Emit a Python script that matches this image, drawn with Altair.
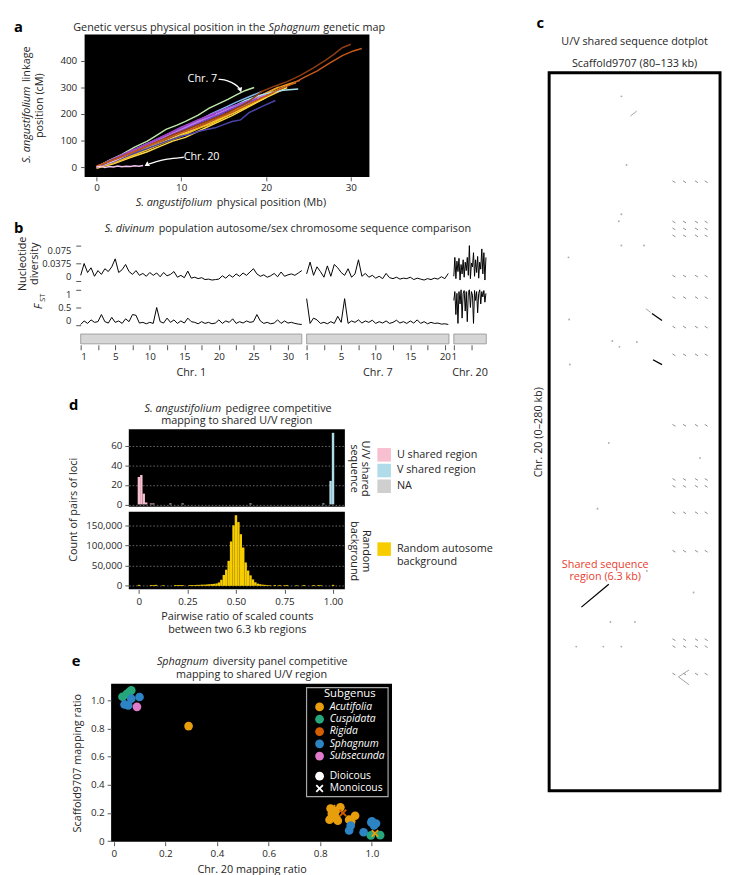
import altair as alt
import pandas as pd

FONT = "Open Sans"
INK = "#262626"
TICK = "#555555"

# ============ Panel a : genetic vs physical position ============
a_names = ["Chr. 10", "Chr. 8", "Chr. 6", "Chr. 4", "Chr. 3", "Chr. 15", "Chr. 12", "Chr. 5",
           "Chr. 9", "Chr. 17", "Chr. 7", "Chr. 19", "Chr. 16", "Chr. 11", "Chr. 14", "Chr. 13",
           "Chr. 18", "Chr. 1", "Chr. 2", "Chr. 20"]
a_colors = ["#f4e27a", "#ffd94a", "#e8b430", "#f6c21c", "#f29a22", "#5a86dc", "#7fb6ee", "#a8e2f0",
            "#4a44aa", "#6a64d0", "#bfe8a8", "#e6c6f6", "#cc95f2", "#b977ea", "#9c55dc", "#7a3fc8",
            "#a040c0", "#8f3d10", "#c55a1c", "#f2c4ee"]
a_x = [
    [0, 2, 4, 6, 8, 10, 12, 14, 16, 18, 20],
    [0, 2, 4, 6, 7.5, 9, 10.5, 12, 14, 16, 18, 20, 22.5],
    [0, 2, 4, 6, 8, 10, 12, 14, 16, 18, 19.5, 21.5],
    [0, 2, 4, 6, 8, 10, 12, 13.5, 15, 16.5, 18, 19.5, 21, 22.5, 23.5],
    [0, 1.5, 3, 4.5, 6, 7.5, 9, 10.5, 12, 13.5, 15, 16.5, 18, 19.5, 21, 22.5, 24],
    [0, 2, 4, 6, 8, 10, 12, 14, 16, 17.5],
    [0, 2, 4, 6, 8, 10, 12, 13.5, 15, 16.5, 18, 19.5],
    [0, 2, 4, 6, 8, 10, 12, 14, 16, 17.5, 19, 20.5, 22, 23.8],
    [0, 2, 4, 6, 8, 10, 11, 12, 13, 14, 15, 16, 17, 18, 19.5, 21.1],
    [0, 2, 4, 6, 8, 10, 12, 14, 15],
    [0, 1.5, 3, 4.5, 6, 7, 8.2, 9.5, 10.5, 12, 13.3, 14.5, 15.5, 16.5, 17.5, 18.6],
    [0, 2, 4, 6, 8, 10, 12],
    [0, 2, 4, 6, 8, 10, 12, 14, 16],
    [0, 2, 4, 6, 8, 10, 12, 14, 16, 18, 20],
    [0, 2, 4, 6, 8, 10, 12, 14, 16, 18],
    [0, 2, 4, 6, 8, 10, 12, 14, 16, 18, 19],
    [0, 2, 4, 6, 8, 10, 12, 14],
    [0, 1.5, 3, 4.5, 6, 7.5, 9, 10.5, 12, 13.5, 15, 16.5, 18, 19.5, 21, 22.5, 24, 25.5, 27, 28, 29, 30],
    [0, 2, 4, 6, 8, 10, 12, 14, 16, 18, 20, 21.5, 23, 24.5, 26, 27.5, 29, 30.3, 31.3],
    [0, 0.5, 1, 1.5, 2, 2.5, 3, 3.5, 4, 4.5, 5, 5.5],
]
a_y = [
    [0, 20, 44, 72, 96, 124, 148, 174, 202, 232, 262],
    [-5, 12, 36, 58, 78, 98, 112, 135, 165, 194, 228, 262, 300],
    [0, 16, 40, 66, 92, 116, 145, 176, 206, 240, 268, 302],
    [0, 18, 42, 66, 95, 118, 146, 162, 186, 210, 232, 258, 285, 308, 318],
    [0, 20, 36, 60, 78, 96, 118, 135, 158, 178, 198, 220, 250, 272, 295, 312, 327],
    [0, 25, 55, 80, 110, 138, 165, 192, 222, 242],
    [0, 32, 58, 86, 116, 146, 174, 200, 222, 245, 265, 285],
    [0, 30, 58, 88, 112, 142, 168, 196, 226, 250, 268, 280, 290, 294],
    [0, 20, 46, 70, 94, 116, 124, 134, 142, 148, 160, 172, 178, 205, 228, 251],
    [0, 30, 58, 85, 112, 142, 170, 192, 205],
    [0, 25, 48, 75, 98, 118, 142, 158, 172, 196, 222, 240, 255, 272, 288, 300],
    [0, 22, 52, 80, 108, 140, 168],
    [0, 25, 52, 82, 112, 140, 170, 198, 225],
    [0, 28, 56, 84, 110, 140, 170, 198, 226, 250, 272],
    [0, 32, 60, 88, 118, 150, 178, 205, 230, 250],
    [0, 28, 52, 80, 108, 136, 165, 192, 220, 244, 258],
    [0, 30, 60, 88, 118, 148, 178, 200],
    [0, 22, 40, 58, 80, 100, 122, 140, 160, 178, 198, 222, 248, 285, 305, 322, 345, 372, 402, 425, 450, 463],
    [4, 26, 52, 80, 104, 128, 152, 180, 206, 238, 268, 292, 312, 338, 362, 392, 420, 438, 447],
    [0, 3, -2, 2, 0, 4, 1, 3, 2, 5, 3, 6],
]
a_label_text = ["Chr. 7", "Chr. 20"]
a_label_x = [12.5, 12.4]
a_label_y = [333, 37]
a_arrow_name = ["Chr. 7"] * 4 + ["Chr. 20"] * 4
a_arrow_x = [14.4, 15.5, 16.4, 16.9, 10.3, 8.2, 7.0, 6.2]
a_arrow_y = [331, 327, 312, 296, 37, 31, 20, 12]
a_head_x = [16.95, 6.0]
a_head_y = [293, 10]
a_head_angle = [160, 240]

# ============ Panel b : diversity / FST tracks ============
b_chroms = ["Chr. 1", "Chr. 7", "Chr. 20"]
b_offset = [0.0, 32.7, 54.0]
b_length = [32.0, 20.6, 4.7]
b_step = [0.5, 0.5, 0.15]
b_div = [
    [0.012, 0.037, 0.018, 0.028, 0.010, 0.022, 0.014, 0.026, 0.020, 0.030, 0.047, 0.018, 0.024, 0.035,
     0.020, 0.014, 0.022, 0.012, 0.016, 0.010, 0.018, 0.012, 0.017, 0.009, 0.018, 0.011, 0.014, 0.020,
     0.008, 0.012, 0.007, 0.021, 0.006, 0.008, 0.005, 0.007, 0.003, 0.004, 0.002, 0.003, 0.004, 0.011,
     0.006, 0.013, 0.008, 0.015, 0.010, 0.017, 0.012, 0.019, 0.026, 0.015, 0.010, 0.013, 0.008, 0.011,
     0.016, 0.009, 0.019, 0.010, 0.013, 0.015, 0.012, 0.017, 0.022],
    [0.015, 0.040, 0.012, 0.030, 0.020, 0.008, 0.032, 0.010, 0.035, 0.028, 0.018, 0.012, 0.026, 0.008,
     0.015, 0.045, 0.010, 0.016, 0.008, 0.012, 0.006, 0.010, 0.005, 0.016, 0.007, 0.005, 0.008, 0.004,
     0.006, 0.005, 0.008, 0.003, 0.006, 0.004, 0.002, 0.005, 0.003, 0.006, 0.004, 0.009, 0.005, 0.016],
    [0.010, 0.050, 0.005, 0.042, 0.020, 0.048, 0.002, 0.035, 0.015, 0.045, 0.008, 0.040, 0.022, 0.050,
     0.012, 0.075, 0.005, 0.038, 0.030, 0.060, 0.010, 0.045, 0.018, 0.052, 0.006, 0.040, 0.025, 0.068,
     0.015, 0.060, 0.002, 0.050],
]
b_fst = [
    [0.02, 0.12, 0.05, 0.15, 0.08, 0.10, 0.30, 0.10, 0.06, 0.22, 0.08, 0.12, 0.05, 0.18, 0.10, 0.30,
     0.28, 0.06, 0.08, 0.04, 0.08, 0.05, 0.50, 0.10, 0.06, 0.20, 0.08, 0.15, 0.05, 0.12, 0.06, 0.20,
     0.10, 0.08, 0.04, 0.10, 0.05, 0.08, 0.04, 0.06, 0.15, 0.05, 0.12, 0.08, 0.18, 0.05, 0.10, 0.06,
     0.12, 0.08, 0.10, 0.30, 0.12, 0.05, 0.08, 0.04, 0.06, 0.15, 0.05, 0.12, 0.06, 0.08, 0.05, 0.03, 0.02],
    [0.75, 0.05, 0.20, 0.15, 0.05, 0.08, 0.04, 0.10, 0.05, 0.25, 0.08, 0.75, 0.05, 0.12, 0.08, 0.15,
     0.06, 0.12, 0.08, 0.14, 0.05, 0.10, 0.06, 0.12, 0.05, 0.08, 0.14, 0.06, 0.10, 0.05, 0.12, 0.06,
     0.15, 0.05, 0.10, 0.04, 0.08, 0.05, 0.06, 0.03, 0.04, 0.02],
    [0.70, 0.95, 0.30, 0.90, 0.05, 0.95, 0.60, 1.00, 0.20, 0.90, 0.98, 0.40, 0.95, 0.10, 0.92, 1.00,
     0.50, 0.95, 0.85, 0.05, 0.98, 0.70, 0.95, 0.35, 0.90, 1.00, 0.60, 0.95, 0.80, 0.98, 0.65, 0.90],
]
b_tick_mb = [[0, 2.5, 5, 7.5, 10, 12.5, 15, 17.5, 20, 22.5, 25, 27.5, 30],
             [0, 2.5, 5, 7.5, 10, 12.5, 15, 17.5, 20],
             [0, 2.5]]
b_tick_lab = [["1", "", "5", "", "10", "", "15", "", "20", "", "25", "", "30"],
              ["1", "", "5", "", "10", "", "15", "", "20"],
              ["1", ""]]

# ============ Panel d : competitive mapping histograms ============
d_u_x = [0.0, 0.0125, 0.025, 0.0375, 0.0625, 0.075, 0.1625]
d_u_n = [28, 30, 11, 2, 1, 1, 1]
d_na_x = [0.225, 0.575]
d_na_n = [1, 1]
d_v_x = [0.95, 0.9875, 1.0]
d_v_n = [1, 24, 73]
d_bg_x = [0.0, 0.0625, 0.075, 0.0875, 0.125, 0.1875, 0.2, 0.2125, 0.225, 0.2625, 0.275, 0.2875, 0.3,
          0.3125, 0.325, 0.3375, 0.35, 0.3625, 0.375, 0.3875, 0.4, 0.4125, 0.425, 0.4375, 0.45, 0.4625,
          0.475, 0.4875, 0.5, 0.5125, 0.525, 0.5375, 0.55, 0.5625, 0.575, 0.5875, 0.6, 0.6125, 0.625,
          0.6375, 0.65, 0.6625, 0.675, 0.7, 0.725, 0.75, 0.7625, 0.8125, 0.85, 0.9, 0.925, 0.9375, 1.0]
d_bg_n = [2500, 2000, 2000, 2500, 1500, 2000, 2000, 2000, 2000, 2000, 2000, 2000, 2500, 2500, 3000,
          3000, 3500, 4000, 4500, 5000, 6000, 8500, 15000, 27000, 40000, 62000, 110000, 150000, 175000,
          158000, 128000, 95000, 58000, 38000, 26000, 16000, 9000, 5500, 4000, 3000, 2500, 2000, 1500,
          2000, 2000, 1500, 2000, 1500, 2000, 2000, 2000, 1500, 2500]
d_cats = ["U shared region", "V shared region", "NA"]
d_cat_colors = ["#f7bfd0", "#b0dbe9", "#cfcfcf"]
d_bg_cat = "Random autosome background"
d_bg_color = "#f7cd00"
D_BIN = 0.0125

# ============ Panel e : diversity panel scatter ============
e_x = [0.034, 0.050, 0.068, 0.060, 0.068, 0.100, 0.042, 0.056, 0.090, 0.290,
       0.836, 0.850, 0.845, 0.862, 0.868, 0.878, 0.860, 0.912, 0.935, 0.920, 0.840,
       0.918, 0.912, 0.968, 0.998, 1.008, 1.016, 1.000,
       0.996, 1.032,
       0.845, 0.858, 1.012, 0.888]
e_y = [1.027, 1.045, 1.072, 1.060, 1.013, 1.025, 0.972, 0.965, 0.955, 0.818,
       0.152, 0.170, 0.195, 0.160, 0.145, 0.240, 0.215, 0.152, 0.180, 0.140, 0.232,
       0.110, 0.075, 0.063, 0.132, 0.112, 0.125, 0.140,
       0.040, 0.042,
       0.232, 0.205, 0.055, 0.200]
e_sub = (["Cuspidata"] * 4 + ["Sphagnum"] * 4 + ["Subsecunda"] + ["Acutifolia"] + ["Acutifolia"] * 11
         + ["Sphagnum"] * 7 + ["Cuspidata"] * 2 + ["Acutifolia"] * 3 + ["Rigida"])
e_sex = ["Dioicous"] * 30 + ["Monoicous"] * 4
e_sub_domain = ["Acutifolia", "Cuspidata", "Rigida", "Sphagnum", "Subsecunda"]
e_sub_colors = ["#e89e0c", "#25a67b", "#d55e00", "#2d84c4", "#e07bcb"]
X_PATH = "M-0.9,-0.6L-0.6,-0.9L0,-0.3L0.6,-0.9L0.9,-0.6L0.3,0L0.9,0.6L0.6,0.9L0,0.3L-0.6,0.9L-0.9,0.6L-0.3,0Z"

# ============ Panel c : dotplot ============
c_line_x1 = [90.0, 111.9, 112.2]
c_line_y1 = [208.4, 93.9, 111.9]
c_line_x2 = [98.5, 115.0, 115.0]
c_line_y2 = [199.5, 96.6, 113.8]
c_dash_rows = [42.5, 58.2, 60.9, 63.6, 79.3, 87.7, 99.2, 110.0, 137.5, 158.6, 161.3, 171.6,
               186.6, 221.1, 223.8, 234.5]
c_dash_cols = [118.7, 122.0, 125.7, 128.7]
c_seg_x1 = [123.4, 120.1, 105.2, 110.0]
c_seg_y1 = [232.9, 235.6, 16.9, 92.0]
c_seg_x2 = [120.1, 123.4, 107.2, 111.5]
c_seg_y2 = [235.6, 238.7, 14.9, 93.5]
c_dot_x = [102.4, 102.4, 101.6, 102.4, 109.4, 99.6, 101.8, 107.2, 98.5, 126.8, 110.3, 124.8,
           99.0, 106.6, 88.4, 96.8, 102.4, 86.2, 86.4, 86.0, 104.0, 95.0]
c_dot_y = [9.2, 55.2, 57.9, 67.4, 67.4, 104.6, 106.9, 105.0, 144.4, 150.2, 194.3, 202.7,
           214.2, 214.2, 223.8, 223.8, 223.8, 96.2, 113.8, 72.0, 36.0, 170.0]


# ---------------- helpers ----------------
def txt(text, x, y, size=11, angle=0, color=INK, weight="normal", align="center",
        baseline="middle", style="normal"):
    return alt.Chart(pd.DataFrame({"t": [text]})).mark_text(
        fontSize=size, angle=angle, color=color, fontWeight=weight, align=align,
        baseline=baseline, font=FONT, fontStyle=style, lineBreak="\n", lineHeight=13
    ).encode(x=alt.value(x), y=alt.value(y), text="t:N")


def mixed(ital, rest, x_split, y, size=11, gap=4.5):
    """Italic words ending at x_split followed by upright words."""
    return [txt(ital, x_split, y, size=size, align="right", style="italic"),
            txt(rest, x_split + gap, y, size=size, align="left")]


def letter(ch, x, y):
    return txt(ch, x, y, size=15, weight="bold", align="left", baseline="top", color="black")


def spacer(w):
    return alt.Chart(pd.DataFrame({"z": [0]})).mark_point(opacity=0).encode(
        x=alt.value(0), y=alt.value(0)).properties(width=w, height=1)


def indep(ch):
    return ch.resolve_scale(color="independent", shape="independent")


def pad_left(ch, w):
    return indep(alt.hconcat(spacer(w), ch, spacing=0))


# ---------------- Panel a ----------------
rows = []
for name, xs, ys in zip(a_names, a_x, a_y):
    for i, (xv, yv) in enumerate(zip(xs, ys)):
        rows.append({"chrom": name, "x": xv, "y": yv, "idx": i})
df_a = pd.DataFrame(rows)

A_W, A_H = 290, 145
xa_scale = alt.Scale(domain=[-1.4, 32.2], nice=False, zero=False)
ya_scale = alt.Scale(domain=[-37, 500], nice=False, zero=False)
X_a = alt.X("x:Q", scale=xa_scale, axis=alt.Axis(values=[0, 10, 20, 30], title=None))
Y_a = alt.Y("y:Q", scale=ya_scale, axis=alt.Axis(values=[0, 100, 200, 300, 400], title=None, labelPadding=4))

a_lines = alt.Chart(df_a).mark_line(strokeWidth=1.5).encode(
    x=X_a, y=Y_a,
    color=alt.Color("chrom:N", scale=alt.Scale(domain=a_names, range=a_colors), legend=None),
    order=alt.Order("idx:Q"),
)
df_arrow = pd.DataFrame({"name": a_arrow_name, "x": a_arrow_x, "y": a_arrow_y,
                         "idx": list(range(len(a_arrow_x)))})
a_arrows = alt.Chart(df_arrow).mark_line(color="white", strokeWidth=1.3, interpolate="basis").encode(
    x=X_a, y=Y_a, detail="name:N", order=alt.Order("idx:Q"))
a_heads = alt.Chart(pd.DataFrame({"x": a_head_x, "y": a_head_y, "ang": a_head_angle})).mark_point(
    shape="triangle", filled=True, color="white", size=30, opacity=1).encode(
    x=X_a, y=Y_a, angle=alt.Angle("ang:Q", scale=None))
a_text = alt.Chart(pd.DataFrame({"t": a_label_text, "x": a_label_x, "y": a_label_y})).mark_text(
    color="white", fontSize=11, font=FONT).encode(x=X_a, y=Y_a, text="t:N")

SPH_C, SPH_HALF = 213.5, 25.5
a_title = [
    txt("Genetic versus physical position in the", SPH_C - SPH_HALF - 4, -7, align="right"),
    txt("Sphagnum", SPH_C, -7, style="italic"),
    txt("genetic map", SPH_C + SPH_HALF + 4, -7, align="left"),
]
a_xtitle = mixed("S. angustifolium", "physical position (Mb)", 130, A_H + 27)
a_ytitle = [
    txt("S. angustifolium", -59, 53, angle=270, align="right", style="italic"),
    txt("linkage", -59, 48.5, angle=270, align="left"),
    txt("position (cM)", -45, A_H / 2, angle=270),
]
panel_a = alt.layer(
    a_lines, a_arrows, a_heads, a_text, *a_title, *a_xtitle, *a_ytitle,
    letter("a", -72, -15),
).properties(width=A_W, height=A_H, view=alt.ViewBackground(fill="black", stroke=None))

# ---------------- Panel b ----------------
div_rows, fst_rows = [], []
for ch, off, st, dv, fv in zip(b_chroms, b_offset, b_step, b_div, b_fst):
    for i, v in enumerate(dv):
        div_rows.append({"chrom": ch, "g": off + i * st, "v": v})
    for i, v in enumerate(fv):
        fst_rows.append({"chrom": ch, "g": off + i * st, "v": v})
df_div = pd.DataFrame(div_rows)
df_fst = pd.DataFrame(fst_rows)

B_W = 413
xb_scale = alt.Scale(domain=[0, 58.7], nice=False, zero=False)
div_line = alt.Chart(df_div).mark_line(color="black", strokeWidth=1).encode(
    x=alt.X("g:Q", scale=xb_scale, axis=None),
    y=alt.Y("v:Q", scale=alt.Scale(domain=[0, 0.075], nice=False, zero=False),
            axis=alt.Axis(values=[0, 0.0375, 0.075], labelExpr="toString(datum.value)",
                          title=["Nucleotide", "diversity"], titlePadding=2, labelPadding=5, tickSize=5,
                          labelFontSize=9.5, labelFlush=True)),
    detail="chrom:N",
)
panel_b_div = alt.layer(
    div_line,
    *mixed("S. divinum", "population autosome/sex chromosome sequence comparison", 75, -17),
    letter("b", -68, -25),
).properties(width=B_W, height=36)

fst_line = alt.Chart(df_fst).mark_line(color="black", strokeWidth=1).encode(
    x=alt.X("g:Q", scale=xb_scale, axis=None),
    y=alt.Y("v:Q", scale=alt.Scale(domain=[0, 1], nice=False, zero=False),
            axis=alt.Axis(values=[0, 0.5, 1], labelExpr="toString(datum.value)", title=None,
                          labelPadding=5, tickSize=5, labelFontSize=9.5, labelFlush=True)),
    detail="chrom:N",
)
panel_b_fst = alt.layer(
    fst_line,
    txt("F", -42, 17, size=11.5, angle=270, style="italic"),
    txt("ST", -38, 8, size=7.5, angle=270),
).properties(width=B_W, height=36)

tick_pos, tick_lab = [], []
for off, tm, tl in zip(b_offset, b_tick_mb, b_tick_lab):
    for p, lab in zip(tm, tl):
        tick_pos.append(round(off + p, 3))
        tick_lab.append(lab)
expr = "''"
for pos, lab in reversed(list(zip(tick_pos, tick_lab))):
    if lab:
        expr = f"abs(datum.value - {pos}) < 0.01 ? '{lab}' : ({expr})"
chr_axis = alt.Axis(values=tick_pos, labelExpr=expr, title=None, tickSize=5, labelPadding=2,
                    offset=1, labelOverlap=False, labelFontSize=10)
df_chr = pd.DataFrame({"chrom": b_chroms, "start": b_offset,
                       "end": [o + l for o, l in zip(b_offset, b_length)],
                       "mid": [o + l / 2 for o, l in zip(b_offset, b_length)]})
chr_bars = alt.Chart(df_chr).mark_rect(fill="#d6d6d6", stroke="#8f8f8f", strokeWidth=0.8).encode(
    x=alt.X("start:Q", scale=xb_scale, axis=chr_axis), x2="end:Q",
    y=alt.value(0), y2=alt.value(10))
chr_names = alt.Chart(df_chr).mark_text(fontSize=11, font=FONT, color=INK).encode(
    x=alt.X("mid:Q", scale=xb_scale, axis=chr_axis), y=alt.value(40), text="chrom:N")
panel_b_chr = alt.layer(chr_bars, chr_names).properties(width=B_W, height=10)

panel_b = indep(alt.vconcat(panel_b_div, panel_b_fst, panel_b_chr, spacing=9, bounds="flush"))

# ---------------- Panel d ----------------
df_top = pd.DataFrame({
    "c": d_u_x + d_na_x + d_v_x,
    "n": d_u_n + d_na_n + d_v_n,
    "cat": [d_cats[0]] * len(d_u_x) + [d_cats[2]] * len(d_na_x) + [d_cats[1]] * len(d_v_x),
})
df_top["x0"] = df_top["c"] - D_BIN / 2
df_top["x1"] = df_top["c"] + D_BIN / 2
df_bg = pd.DataFrame({"c": d_bg_x, "n": d_bg_n, "cat": [d_bg_cat] * len(d_bg_x)})
df_bg["x0"] = df_bg["c"] - D_BIN / 2
df_bg["x1"] = df_bg["c"] + D_BIN / 2

D_W, D_H = 220, 79
xd_scale = alt.Scale(domain=[-0.052, 1.061], nice=False, zero=False)
grid_kw = dict(grid=True, gridDash=[1.5, 2], gridColor="#8a8a8a", gridWidth=0.8)
top_bars = alt.Chart(df_top).mark_rect().encode(
    x=alt.X("x0:Q", scale=xd_scale, axis=None), x2="x1:Q",
    y=alt.Y("n:Q", scale=alt.Scale(domain=[-2.5, 76.6], nice=False, zero=False),
            axis=alt.Axis(values=[0, 20, 40, 60], title=None, labelPadding=3, **grid_kw)),
    y2=alt.datum(0),
    color=alt.Color("cat:N", scale=alt.Scale(domain=d_cats, range=d_cat_colors),
                    legend=alt.Legend(orient="none", legendX=253, legendY=19, title=None,
                                      symbolType="square", symbolSize=190, symbolStrokeWidth=0,
                                      labelFontSize=11, labelColor=INK, labelFont=FONT,
                                      rowPadding=2, labelOffset=6)),
)
panel_d_top = alt.layer(
    top_bars,
    txt("U/V shared", D_W + 20, 40, angle=90),
    txt("sequence", D_W + 9, 40, angle=90),
    txt("Count of pairs of loci", -56, 82, angle=270),
    *mixed("S. angustifolium", "pedigree competitive", 94, -21),
    txt("mapping to shared U/V region", D_W / 2, -8),
    letter("d", -61, -32),
).properties(width=D_W, height=D_H, view=alt.ViewBackground(fill="black", stroke=None))
bg_bars = alt.Chart(df_bg).mark_rect().encode(
    x=alt.X("x0:Q", scale=xd_scale,
            axis=alt.Axis(values=[0, 0.25, 0.5, 0.75, 1],
                          labelExpr="datum.value == 0 ? '0' : format(datum.value, '.2f')",
                          title=["Pairwise ratio of scaled counts", "between two 6.3 kb regions"],
                          titlePadding=5, labelPadding=3)),
    x2="x1:Q",
    y=alt.Y("n:Q", scale=alt.Scale(domain=[-8700, 183500], nice=False, zero=False),
            axis=alt.Axis(values=[0, 50000, 100000, 150000], format=",d", title=None,
                          labelPadding=3, **grid_kw)),
    y2=alt.datum(0),
    color=alt.Color("cat:N", scale=alt.Scale(domain=[d_bg_cat], range=[d_bg_color]),
                    legend=alt.Legend(orient="none", legendX=253, legendY=31, title=None,
                                      symbolType="square", symbolSize=190, symbolStrokeWidth=0,
                                      labelFontSize=11, labelColor=INK, labelFont=FONT,
                                      labelExpr="['Random autosome', 'background']", labelOffset=6)),
)
panel_d_bot = alt.layer(
    bg_bars,
    txt("Random", D_W + 21, 40, angle=90),
    txt("background", D_W + 9, 40, angle=90),
).properties(width=D_W, height=D_H, view=alt.ViewBackground(fill="black", stroke=None))

panel_d = indep(alt.vconcat(panel_d_top, panel_d_bot, spacing=5, bounds="flush"))

# ---------------- Panel e ----------------
E_W, E_H = 286, 161
df_e = pd.DataFrame({"x": e_x, "y": e_y, "sub": e_sub, "sex": e_sex})
e_points = alt.Chart(df_e).mark_point(filled=True, size=78, opacity=1).encode(
    x=alt.X("x:Q", scale=alt.Scale(domain=[-0.01, 1.078], nice=False, zero=False),
            axis=alt.Axis(values=[0, 0.2, 0.4, 0.6, 0.8, 1.0],
                          labelExpr="datum.value == 0 ? '0' : format(datum.value, '.1f')",
                          title="Chr. 20 mapping ratio", titlePadding=5, labelPadding=3)),
    y=alt.Y("y:Q", scale=alt.Scale(domain=[-0.005, 1.12], nice=False, zero=False),
            axis=alt.Axis(values=[0, 0.2, 0.4, 0.6, 0.8, 1.0],
                          labelExpr="datum.value == 0 ? '0' : format(datum.value, '.1f')",
                          title="Scaffold9707 mapping ratio", titlePadding=8, labelPadding=3)),
    color=alt.Color("sub:N", scale=alt.Scale(domain=e_sub_domain, range=e_sub_colors),
                    legend=alt.Legend(orient="none", legendX=207, legendY=5, title="Subgenus",
                                      titleColor="white", titleFontSize=11.5, titleFontWeight="normal",
                                      titleFont=FONT, titleAnchor="middle", labelColor="white",
                                      labelFontStyle="italic", labelFontSize=10.5, labelFont=FONT,
                                      symbolType="circle", symbolSize=80, symbolStrokeWidth=0,
                                      rowPadding=1.5, titlePadding=2, labelOffset=5)),
    shape=alt.Shape("sex:N", scale=alt.Scale(domain=["Dioicous", "Monoicous"], range=["circle", X_PATH]),
                    legend=alt.Legend(orient="none", legendX=207, legendY=89, title=None,
                                      labelColor="white", labelFontSize=10.5, labelFont=FONT,
                                      symbolFillColor="white", symbolStrokeColor="white",
                                      symbolSize=80, symbolStrokeWidth=0, rowPadding=1.5, labelOffset=5)),
)
e_box = alt.Chart(pd.DataFrame({"z": [0]})).mark_rect(fill="black", stroke="#a8a8a8", strokeWidth=1.2).encode(
    x=alt.value(199), x2=alt.value(282), y=alt.value(4), y2=alt.value(115))
panel_e = alt.layer(
    e_box, e_points,
    *mixed("Sphagnum", "diversity panel competitive", 99, -22),
    txt("mapping to shared U/V region", E_W / 2, -9),
    letter("e", -40, -30),
).properties(width=E_W, height=E_H, view=alt.ViewBackground(fill="black", stroke=None))

# ---------------- Panel c ----------------
C_W, C_H = 174, 770
cx_scale = alt.Scale(domain=[80, 133], nice=False, zero=False)
cy_scale = alt.Scale(domain=[-14.94, 280], nice=False, zero=False, reverse=True)
X_c = alt.X("x1:Q", scale=cx_scale, axis=None)
Y_c = alt.Y("y1:Q", scale=cy_scale, axis=None)
c_box = alt.Chart(pd.DataFrame({"x1": [80], "x2": [133], "y1": [0], "y2": [280]})).mark_rect(
    fill="white", stroke="black", strokeWidth=3).encode(x=X_c, x2="x2:Q", y=Y_c, y2="y2:Q")
dash_rows = []
for yv in c_dash_rows:
    for xv in c_dash_cols:
        dash_rows.append({"x1": xv - 0.45, "y1": yv - 0.35, "x2": xv + 0.45, "y2": yv + 0.35})
df_dash = pd.DataFrame(dash_rows)
c_dashes = alt.Chart(df_dash).mark_rule(color="#8c8c8c", strokeWidth=1).encode(
    x=X_c, y=Y_c, x2="x2:Q", y2="y2:Q")
c_segs = alt.Chart(pd.DataFrame({"x1": c_seg_x1, "y1": c_seg_y1, "x2": c_seg_x2, "y2": c_seg_y2})).mark_rule(
    color="#9a9a9a", strokeWidth=0.9).encode(x=X_c, y=Y_c, x2="x2:Q", y2="y2:Q")
c_lines = alt.Chart(pd.DataFrame({"x1": c_line_x1, "y1": c_line_y1, "x2": c_line_x2, "y2": c_line_y2})).mark_rule(
    color="black", strokeWidth=1.3).encode(x=X_c, y=Y_c, x2="x2:Q", y2="y2:Q")
c_dots = alt.Chart(pd.DataFrame({"x1": c_dot_x, "y1": c_dot_y})).mark_point(
    filled=True, size=4, color="#b0b0b0", opacity=1).encode(x=X_c, y=Y_c)
c_label = alt.Chart(pd.DataFrame({"t": ["Shared sequence\nregion (6.3 kb)"], "x1": [97.4], "y1": [191.8]})).mark_text(
    color="#e8402f", fontSize=11, font=FONT, lineBreak="\n", lineHeight=13).encode(x=X_c, y=Y_c, text="t:N")
panel_c = alt.layer(
    c_box, c_dashes, c_segs, c_dots, c_lines, c_label,
    txt("U/V shared sequence dotplot", C_W / 2, 8),
    txt("Scaffold9707 (80–133 kb)", C_W / 2, 30),
    txt("Chr. 20 (0–280 kb)", -10, 405, angle=270),
    letter("c", -13, -19),
).properties(width=C_W, height=C_H)

# ---------------- compose ----------------
left_top = indep(alt.vconcat(pad_left(panel_a, 1), pad_left(panel_b, 1), spacing=13))
left = indep(alt.vconcat(left_top, pad_left(panel_d, 58), pad_left(panel_e, 61), spacing=20))
chart = indep(alt.hconcat(left, panel_c, spacing=41)).properties(
    padding={"left": 0, "top": 0, "right": 0, "bottom": 0}
).configure_axis(
    labelFont=FONT, titleFont=FONT, labelFontSize=10, titleFontSize=11, labelColor=INK,
    titleColor=INK, titleFontWeight="normal", tickColor=TICK, tickSize=4, domain=False, grid=False,
    labelPadding=2,
).configure_legend(
    labelFont=FONT, titleFont=FONT
).configure_view(stroke=None)

chart.save("out.html", embed_options={"renderer": "svg", "actions": False})
